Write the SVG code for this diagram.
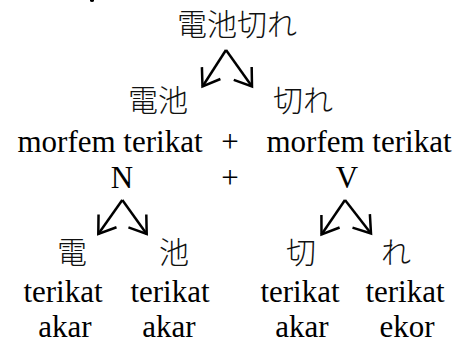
<svg xmlns="http://www.w3.org/2000/svg" width="463" height="343" viewBox="0 0 463 343">
<style>
  .jp { font-family: "Noto Sans CJK JP", "Noto Sans CJK SC", sans-serif; font-size: 30px; font-weight: 300; fill: #111; text-anchor: middle; }
  .lat { font-family: 'Liberation Serif', 'Times New Roman', Times, 'DejaVu Serif', 'Noto Serif', serif; font-size: 31px; fill: #000; text-anchor: middle; }
  .arr { stroke: #000; stroke-width: 2.5; fill: none; marker-end: url(#ah); }
</style>
<defs>
  <marker id="ah" markerUnits="userSpaceOnUse" markerWidth="30" markerHeight="30" viewBox="-20 -15 25 30" refX="0" refY="0" orient="auto">
    <path d="M-16,-11 L0,0 L-16,11" fill="none" stroke="#000" stroke-width="2.5" stroke-linejoin="miter"/>
  </marker>
</defs>
<rect width="463" height="343" fill="#fff"/>
<ellipse cx="92" cy="0.5" rx="2" ry="1.5" fill="#000"/>

<g id="root"><text class="jp" x="237" y="35">電池切れ</text></g>
<g id="denchi"><text class="jp" x="158" y="111">電池</text></g>
<g id="kire"><text class="jp" x="303" y="111">切れ</text></g>
<g id="morfem1"><text class="lat" font-family="Liberation Serif" x="110" y="152">morfem terikat</text></g>
<g id="plus1"><text class="lat" font-family="Liberation Serif" x="230" y="152">+</text></g>
<g id="morfem2"><text class="lat" font-family="Liberation Serif" x="359" y="152">morfem terikat</text></g>
<g id="N"><text class="lat" font-family="Liberation Serif" x="122" y="188">N</text></g>
<g id="plus2"><text class="lat" font-family="Liberation Serif" x="230" y="188">+</text></g>
<g id="V"><text class="lat" font-family="Liberation Serif" x="347" y="188">V</text></g>

<g id="den"><text class="jp" x="72" y="263">電</text><text class="lat" x="63" y="302">terikat</text><text class="lat" x="65" y="337">akar</text></g>
<g id="chi"><text class="jp" x="174" y="263">池</text><text class="lat" x="170" y="302">terikat</text><text class="lat" x="169" y="337">akar</text></g>
<g id="ki"><text class="jp" x="301" y="263">切</text><text class="lat" x="300" y="302">terikat</text><text class="lat" x="302" y="337">akar</text></g>
<g id="re"><text class="jp" x="396" y="263">れ</text><text class="lat" x="405" y="302">terikat</text><text class="lat" x="407" y="337">ekor</text></g>

<g id="connectors">
  <path class="arr" d="M226,50 L202.5,86.5"/>
  <path class="arr" d="M226,50 L252,86.5"/>
  <path class="arr" d="M122.3,200 L98.3,234"/>
  <path class="arr" d="M122.3,200 L146.7,234"/>
  <path class="arr" d="M345,200 L321.5,234.5"/>
  <path class="arr" d="M345,200 L371,233.5"/>
</g>
</svg>
